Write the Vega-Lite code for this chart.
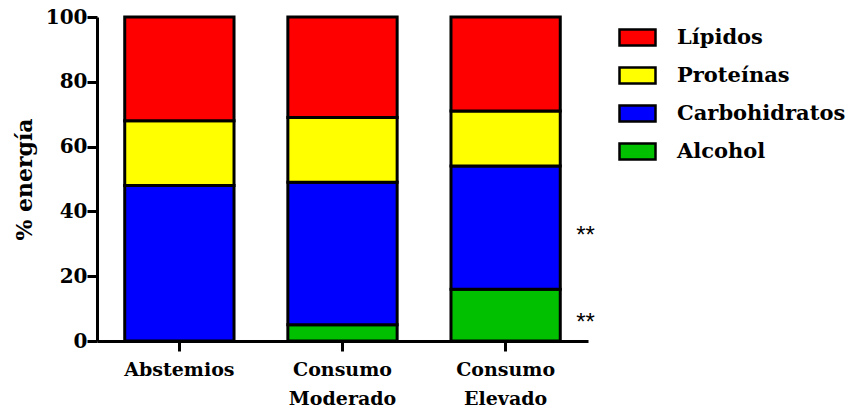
{
  "$schema": "https://vega.github.io/schema/vega-lite/v6.json",
  "width": 491,
  "height": 324,
  "autosize": "none",
  "padding": {"left": 97, "top": 17, "right": 266, "bottom": 69},
  "background": "white",
  "config": {"view": {"stroke": null}, "font": "DejaVu Serif"},
  "data": {
    "values": [
      {"grupo": "Abstemios", "nutriente": "Carbohidratos", "valor": 48},
      {"grupo": "Abstemios", "nutriente": "Proteínas", "valor": 20},
      {"grupo": "Abstemios", "nutriente": "Lípidos", "valor": 32},
      {"grupo": "Consumo Moderado", "nutriente": "Alcohol", "valor": 5},
      {"grupo": "Consumo Moderado", "nutriente": "Carbohidratos", "valor": 44},
      {"grupo": "Consumo Moderado", "nutriente": "Proteínas", "valor": 20},
      {"grupo": "Consumo Moderado", "nutriente": "Lípidos", "valor": 31},
      {"grupo": "Consumo Elevado", "nutriente": "Alcohol", "valor": 16},
      {"grupo": "Consumo Elevado", "nutriente": "Carbohidratos", "valor": 38},
      {"grupo": "Consumo Elevado", "nutriente": "Proteínas", "valor": 17},
      {"grupo": "Consumo Elevado", "nutriente": "Lípidos", "valor": 29}
    ]
  },
  "layer": [
    {
      "transform": [
        {"calculate": "indexof(['Alcohol','Carbohidratos','Proteínas','Lípidos'], datum.nutriente)", "as": "orden"}
      ],
      "mark": {"type": "bar", "stroke": "black", "strokeWidth": 3},
      "encoding": {
        "x": {
          "field": "grupo",
          "type": "nominal",
          "sort": ["Abstemios", "Consumo Moderado", "Consumo Elevado"],
          "scale": {"paddingInner": 0.33, "paddingOuter": 0.17},
          "axis": {
            "title": null,
            "labelAngle": 0,
            "labelExpr": "split(datum.label, ' ')",
            "labelFont": "DejaVu Serif",
            "labelFontWeight": "bold",
            "labelFontSize": 19,
            "labelColor": "black",
            "labelLineHeight": 29,
            "labelPadding": 9,
            "domainColor": "black",
            "domainWidth": 3,
            "tickColor": "black",
            "tickWidth": 3,
            "tickSize": 10
          }
        },
        "y": {
          "field": "valor",
          "type": "quantitative",
          "stack": "zero",
          "scale": {"domain": [0, 100], "nice": false},
          "axis": {
            "title": "% energía",
            "values": [0, 20, 40, 60, 80, 100],
            "grid": false,
            "labelFont": "DejaVu Serif",
            "labelFontWeight": "bold",
            "labelFontSize": 20,
            "labelColor": "black",
            "labelPadding": 0,
            "titleFont": "DejaVu Serif",
            "titleFontWeight": "bold",
            "titleFontSize": 22,
            "titleColor": "black",
            "titlePadding": 9,
            "domainColor": "black",
            "domainWidth": 3,
            "tickColor": "black",
            "tickWidth": 3,
            "tickSize": 10
          }
        },
        "color": {
          "field": "nutriente",
          "type": "nominal",
          "scale": {
            "domain": ["Lípidos", "Proteínas", "Carbohidratos", "Alcohol"],
            "range": ["#ff0000", "#ffff00", "#0000ff", "#00c000"]
          },
          "legend": {
            "title": null,
            "orient": "none",
            "legendX": 521,
            "legendY": 1,
            "padding": 0,
            "symbolType": "M-1,-0.44L1,-0.44L1,0.44L-1,0.44Z",
            "symbolSize": 1296,
            "symbolStrokeColor": "black",
            "symbolStrokeWidth": 2.5,
            "symbolOpacity": 1,
            "labelFont": "DejaVu Serif",
            "labelFontWeight": "bold",
            "labelFontSize": 21,
            "labelLimit": 400,
            "labelColor": "black",
            "labelOffset": 20,
            "rowPadding": 5
          }
        },
        "order": {"field": "orden", "type": "quantitative"}
      }
    },
    {
      "data": {
        "values": [
          {"grupo": "Consumo Elevado", "y": 35, "t": "**"},
          {"grupo": "Consumo Elevado", "y": 8, "t": "**"}
        ]
      },
      "mark": {"type": "text", "dx": 80, "dy": 8, "font": "Liberation Sans", "fontSize": 24, "color": "black"},
      "encoding": {
        "x": {"field": "grupo", "type": "nominal", "sort": ["Abstemios", "Consumo Moderado", "Consumo Elevado"]},
        "y": {"field": "y", "type": "quantitative"},
        "text": {"field": "t"}
      }
    }
  ]
}
